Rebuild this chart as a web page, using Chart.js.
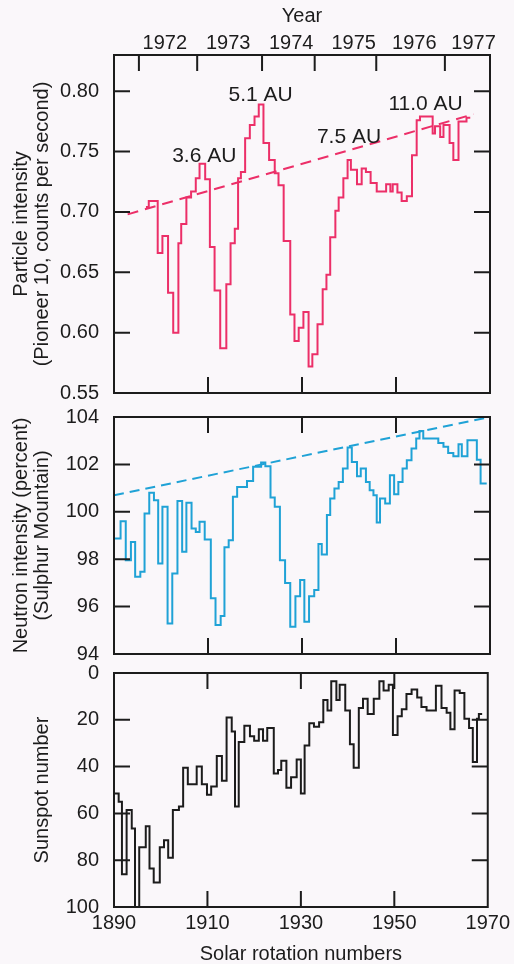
<!DOCTYPE html>
<html>
<head>
<meta charset="utf-8">
<script src="https://cdn.jsdelivr.net/npm/chart.js@4.4.1/dist/chart.umd.min.js"></script>
<style>
  html, body { margin: 0; padding: 0; background: #faf7fa; }
  #wrap { position: relative; width: 514px; height: 964px; }
  canvas { position: absolute; left: 0; top: 0; }
</style>
</head>
<body>
<div id="wrap">
  <canvas id="myChart1" width="514" height="964"></canvas>
  <canvas id="myChart2" width="514" height="964"></canvas>
  <canvas id="myChart3" width="514" height="964"></canvas>
</div>
<script>
// solar rotation axis, shared by all three panels
const rotMin = 1890;
const rotMax = 1970;
const rotTicks = [1890, 1910, 1930, 1950, 1970];
const rotInnerTicks = [1910, 1930, 1950];

// calendar years along the top
const yearLabels = ["1972", "1973", "1974", "1975", "1976", "1977"];
const yearCenters = [1900.8, 1914.3, 1927.7, 1941.0, 1953.9, 1966.5];
const yearBounds = [1895.3, 1907.7, 1921.5, 1932.7, 1945.8, 1960.4];

// panel 1: Pioneer 10 particle intensity
const particleRot = [1896.8, 1897.4, 1899.3, 1900.3, 1901.5, 1902.6, 1903.7, 1904.3, 1905.4, 1906.4,
    1907.4, 1908.2, 1909.4, 1910.4, 1911.4, 1912.6, 1913.9, 1914.8, 1915.7, 1916.4,
    1917.0, 1917.9, 1918.9, 1919.9, 1920.8, 1921.8, 1923.0, 1924.2, 1925.0, 1926.1,
    1927.5, 1928.4, 1929.3, 1930.3, 1931.4, 1932.2, 1933.3, 1934.4, 1935.2, 1936.0,
    1937.1, 1937.8, 1938.8, 1939.7, 1940.4, 1941.7, 1942.7, 1943.6, 1944.6, 1945.9,
    1947.9, 1948.8, 1949.3, 1950.3, 1951.2, 1952.3, 1953.4, 1954.4, 1955.1, 1957.8,
    1958.3, 1959.4, 1960.1, 1961.4, 1962.2, 1963.3, 1965.0];
const particleVal = [0.704, 0.709, 0.666, 0.680, 0.633, 0.600, 0.674, 0.690, 0.712, 0.717,
    0.728, 0.740, 0.727, 0.671, 0.635, 0.587, 0.640, 0.674, 0.686, 0.728,
    0.733, 0.761, 0.772, 0.779, 0.789, 0.757, 0.743, 0.732, 0.722, 0.676,
    0.615, 0.593, 0.604, 0.617, 0.572, 0.582, 0.607, 0.636, 0.648, 0.679,
    0.701, 0.712, 0.728, 0.743, 0.735, 0.723, 0.736, 0.733, 0.724, 0.717,
    0.723, 0.717, 0.723, 0.716, 0.709, 0.713, 0.747, 0.776, 0.779, 0.765,
    0.771, 0.762, 0.772, 0.757, 0.743, 0.775, 0.778];
const particleEnd = 1965.8;
const particleTrendRot = [1892.9, 1966.5];
const particleTrendVal = [0.698, 0.781];
const particleTicks = [0.55, 0.60, 0.65, 0.70, 0.75, 0.80];
const auLabels = ["3.6 AU", "5.1 AU", "7.5 AU", "11.0 AU"];
const auRot = [1909.2, 1921.2, 1940.0, 1956.3];
const auVal = [0.746, 0.797, 0.762, 0.789];

// panel 2: Sulphur Mountain neutron monitor
const neutronRot = [1890.0, 1891.4, 1892.5, 1893.6, 1894.5, 1895.6, 1896.5, 1897.5, 1898.5, 1899.4,
    1900.3, 1901.4, 1902.4, 1903.5, 1904.5, 1905.4, 1906.5, 1907.4, 1908.2, 1909.3,
    1910.6, 1911.6, 1912.7, 1913.5, 1914.4, 1915.3, 1916.2, 1918.3, 1919.6, 1921.3,
    1922.2, 1923.3, 1924.2, 1925.3, 1926.4, 1927.5, 1928.6, 1929.6, 1930.5, 1931.5,
    1932.6, 1933.5, 1934.2, 1935.3, 1936.0, 1936.9, 1937.8, 1938.7, 1939.7, 1940.6,
    1941.7, 1942.5, 1943.6, 1944.4, 1945.2, 1945.9, 1946.6, 1947.7, 1948.7, 1949.6,
    1950.5, 1951.4, 1952.3, 1953.3, 1954.3, 1955.0, 1955.8, 1959.0, 1960.1, 1961.1,
    1962.2, 1963.3, 1964.0, 1965.2, 1967.2, 1968.0];
const neutronVal = [98.87, 99.6, 97.96, 98.73, 97.26, 97.47, 99.93, 100.8, 100.49, 97.82,
    100.21, 95.29, 97.4, 100.46, 98.31, 100.38, 99.3, 99.15, 99.58, 98.83,
    96.35, 95.22, 95.6, 98.5, 98.8, 100.63, 101.05, 101.3, 101.9, 102.08,
    101.92, 100.6, 100.21, 97.96, 97.0, 95.15, 96.44, 97.12, 95.36, 96.44,
    96.7, 98.64, 98.2, 99.86, 100.56, 100.98, 101.26, 101.83, 102.71, 102.1,
    101.5, 101.83, 101.26, 100.91, 100.7, 99.55, 100.56, 100.35, 101.54, 100.74,
    101.26, 101.83, 102.18, 102.67, 103.09, 103.41, 103.09, 102.9, 102.74, 102.48,
    102.34, 102.85, 102.34, 103.02, 102.2, 101.19];
const neutronEnd = 1969.3;
const neutronTrendRot = [1890, 1970];
const neutronTrendVal = [100.7, 104.0];
const neutronTicks = [94, 96, 98, 100, 102, 104];

// panel 3: sunspot number (axis reversed)
const sunRot = [1890.0, 1891.0, 1891.7, 1892.7, 1893.8, 1894.5, 1895.4, 1896.8, 1897.6, 1898.5,
    1899.8, 1900.7, 1901.6, 1902.6, 1903.9, 1904.8, 1905.8, 1907.7, 1908.8, 1909.9,
    1910.8, 1912.0, 1913.1, 1914.1, 1915.2, 1915.9, 1916.7, 1917.9, 1919.1, 1920.0,
    1921.0, 1921.9, 1922.8, 1924.2, 1925.1, 1925.8, 1926.9, 1927.9, 1929.1, 1930.0,
    1930.8, 1931.8, 1932.8, 1933.9, 1934.8, 1935.7, 1936.5, 1937.6, 1938.3, 1939.5,
    1940.5, 1941.3, 1942.4, 1943.3, 1944.3, 1945.6, 1946.8, 1947.7, 1948.8, 1949.7,
    1950.7, 1951.6, 1952.6, 1953.7, 1954.9, 1955.8, 1956.9, 1958.9, 1960.1, 1961.2,
    1962.0, 1962.9, 1964.0, 1965.0, 1966.0, 1966.8, 1967.7, 1968.1];
const sunVal = [51.5, 55, 86, 58.5, 66.5, 100, 74.5, 65.5, 83.5, 89.5,
    74.5, 71.5, 79, 58.5, 57, 40.5, 47.5, 40, 47.5, 52,
    48.5, 35.5, 46, 19, 25, 57, 29.5, 22.5, 27, 29,
    24, 29, 23.5, 43, 41.5, 37.5, 49, 44.5, 37, 51.5,
    31, 21.5, 23, 21, 11.5, 16, 3.5, 11.5, 5, 16,
    30.5, 40.5, 15, 11, 17.5, 11, 3.5, 7.5, 5, 26.5,
    18.5, 15.5, 9, 7, 10.5, 14.5, 16, 5.5, 15, 17,
    24, 7.5, 8.5, 19.5, 23.5, 38, 19.5, 17.5];
const sunEnd = 1968.8;
const sunTicks = [0, 20, 40, 60, 80, 100];

const ink = "#1c1c1c";
const red = "#ec2f68";
const blue = "#1fa2d6";
const font = { family: "'Liberation Sans', Arial, sans-serif", size: 20 };
const titleFont = { family: "'Liberation Sans', Arial, sans-serif", size: 20, lineHeight: 1.05 };

// stepped series: every value holds until the next rotation
function steps(xs, ys, end) {
    const pts = xs.map((x, i) => ({ x: x, y: ys[i] }));
    pts.push({ x: end, y: ys[ys.length - 1] });
    return pts;
}
function pairs(xs, ys) {
    return xs.map((x, i) => ({ x: x, y: ys[i] }));
}

// box round each panel, with inward tick marks
const framePlugin = {
    id: "frame",
    afterDatasetsDraw(chart, args, opts) {
        const { ctx, chartArea: a } = chart;
        const x = chart.scales.x;
        const y = chart.scales.y;
        const len = 16;
        ctx.save();
        ctx.strokeStyle = ink;
        ctx.lineWidth = 2;
        ctx.strokeRect(a.left, a.top, a.right - a.left, a.bottom - a.top);
        ctx.beginPath();
        opts.top.forEach(v => {
            const px = x.getPixelForValue(v);
            ctx.moveTo(px, a.top);
            ctx.lineTo(px, a.top + len);
        });
        opts.bottom.forEach(v => {
            const px = x.getPixelForValue(v);
            ctx.moveTo(px, a.bottom);
            ctx.lineTo(px, a.bottom - len);
        });
        y.ticks.forEach(t => {
            if (t.value <= y.min || t.value >= y.max) return;
            const py = y.getPixelForValue(t.value);
            ctx.moveTo(a.left, py);
            ctx.lineTo(a.left + len, py);
            ctx.moveTo(a.right, py);
            ctx.lineTo(a.right - len, py);
        });
        ctx.stroke();
        ctx.restore();
    },
};

// distance labels in panel 1
const auPlugin = {
    id: "au",
    afterDatasetsDraw(chart, args, opts) {
        if (!opts.labels) return;
        const { ctx } = chart;
        ctx.save();
        ctx.fillStyle = ink;
        ctx.font = "21px 'Liberation Sans', Arial, sans-serif";
        ctx.textAlign = "center";
        ctx.textBaseline = "middle";
        opts.labels.forEach((t, i) => {
            ctx.fillText(t, chart.scales.x.getPixelForValue(opts.rot[i]), chart.scales.y.getPixelForValue(opts.val[i]));
        });
        ctx.restore();
    },
};

function yAxis(min, max, ticks, fmt, title, titlePad, reverse) {
    return {
        min: min,
        max: max,
        reverse: !!reverse,
        afterBuildTicks: s => { s.ticks = ticks.map(v => ({ value: v })); },
        afterFit: s => { s.width = 114; },
        grid: { display: false, drawTicks: false },
        border: { display: false },
        ticks: { padding: 15, color: ink, font: font, callback: fmt },
        title: { display: true, text: title, color: ink, font: titleFont, padding: { top: titlePad, bottom: 0 } },
    };
}

const common = {
    responsive: false,
    animation: false,
    events: [],
};


// FOR CHART 1
const config1 = {
    type: "line",
    data: {
        datasets: [
            { data: steps(particleRot, particleVal, particleEnd), borderColor: red, borderWidth: 2, stepped: true, pointRadius: 0 },
            { data: pairs(particleTrendRot, particleTrendVal), borderColor: red, borderWidth: 2, borderDash: [11, 7], pointRadius: 0 },
        ],
    },
    options: {
        ...common,
        layout: { padding: { top: 0, right: 24, bottom: 571, left: 0 } },
        plugins: {
            legend: { display: false },
            tooltip: { enabled: false },
            frame: { top: yearBounds, bottom: rotInnerTicks },
            au: { labels: auLabels, rot: auRot, val: auVal },
        },
        scales: {
            x: { type: "linear", min: rotMin, max: rotMax, display: false },
            xTop: {
                type: "linear",
                position: "top",
                min: rotMin,
                max: rotMax,
                afterBuildTicks: s => { s.ticks = yearCenters.map(v => ({ value: v })); },
                afterFit: s => { s.height = 55; },
                grid: { display: false, drawTicks: false },
                border: { display: false },
                ticks: { autoSkip: false, maxRotation: 0, padding: 0, color: ink, font: font, callback: (v, i) => yearLabels[i] },
                title: { display: true, text: "Year", color: ink, font: font, padding: { top: 4, bottom: 0 } },
            },
            y: yAxis(0.55, 0.83, particleTicks, v => v.toFixed(2),
                ["Particle intensity", "(Pioneer 10, counts per second)"], 10.5),
        },
    },
    plugins: [framePlugin, auPlugin],
};

const myChart1 = new Chart(document.getElementById("myChart1"), config1);


// FOR CHART 2
const config2 = {
    type: "line",
    data: {
        datasets: [
            { data: steps(neutronRot, neutronVal, neutronEnd), borderColor: blue, borderWidth: 2, stepped: true, pointRadius: 0 },
            { data: pairs(neutronTrendRot, neutronTrendVal), borderColor: blue, borderWidth: 2, borderDash: [10, 6], pointRadius: 0 },
        ],
    },
    options: {
        ...common,
        layout: { padding: { top: 417, right: 24, bottom: 310, left: 0 } },
        plugins: {
            legend: { display: false },
            tooltip: { enabled: false },
            frame: { top: rotInnerTicks, bottom: rotInnerTicks },
        },
        scales: {
            x: { type: "linear", min: rotMin, max: rotMax, display: false },
            y: yAxis(94, 104, neutronTicks, v => String(v),
                ["Neutron intensity (percent)", "(Sulphur Mountain)"], 10.5),
        },
    },
    plugins: [framePlugin],
};

const myChart2 = new Chart(document.getElementById("myChart2"), config2);


// FOR CHART 3
const config3 = {
    type: "line",
    data: {
        datasets: [
            { data: steps(sunRot, sunVal, sunEnd), borderColor: ink, borderWidth: 2, stepped: true, pointRadius: 0 },
        ],
    },
    options: {
        ...common,
        layout: { padding: { top: 673, right: 24, bottom: 0, left: 0 } },
        plugins: {
            legend: { display: false },
            tooltip: { enabled: false },
            frame: { top: rotInnerTicks, bottom: rotInnerTicks },
        },
        scales: {
            x: {
                type: "linear",
                min: rotMin,
                max: rotMax,
                afterBuildTicks: s => { s.ticks = rotTicks.map(v => ({ value: v })); },
                afterFit: s => { s.height = 57; },
                grid: { display: false, drawTicks: false },
                border: { display: false },
                ticks: { autoSkip: false, maxRotation: 0, padding: 4, color: ink, font: font, callback: v => String(v) },
                title: { display: true, text: "Solar rotation numbers", color: ink, font: { ...font, lineHeight: 1.0 }, padding: { top: 0, bottom: 0 } },
            },
            y: yAxis(0, 100, sunTicks, v => String(v), "Sunspot number", 31.5, true),
        },
    },
    plugins: [framePlugin],
};

const myChart3 = new Chart(document.getElementById("myChart3"), config3);
</script>
</body>
</html>
